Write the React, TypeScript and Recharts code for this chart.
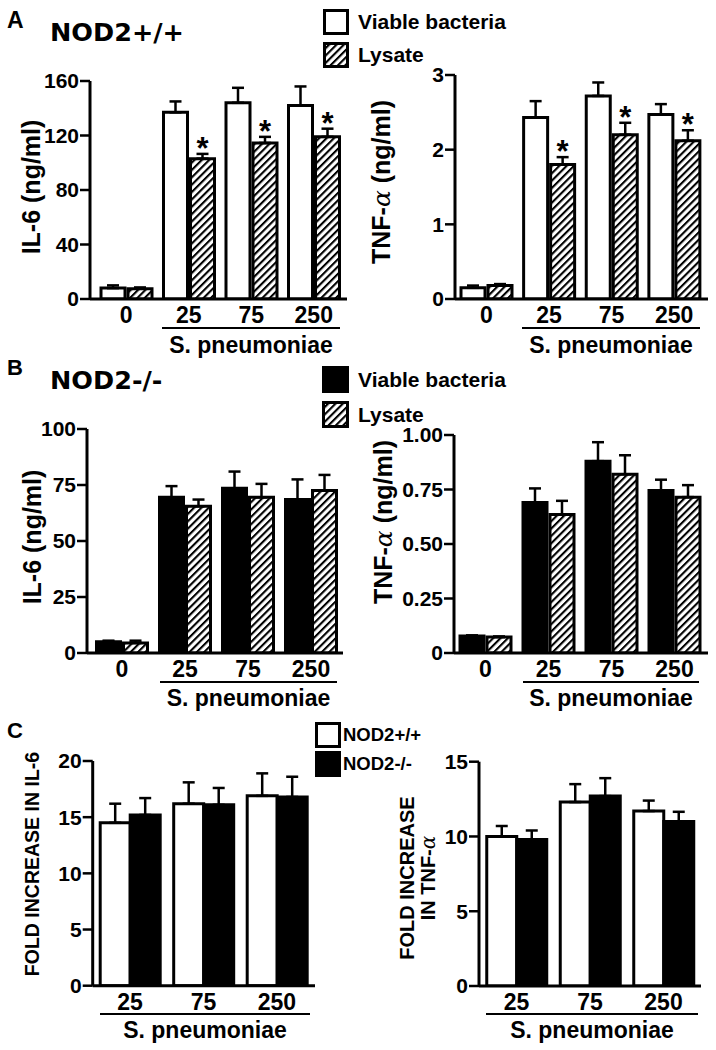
import React from 'react';
import { BarChart, Bar, XAxis, YAxis, ErrorBar, LabelList, Legend } from 'recharts';

const FONT = '"Liberation Sans", Arial, sans-serif';
const WIDE = '"DejaVu Sans", sans-serif';

const doses = ['0', '25', '75', '250'];
const foldDoses = ['25', '75', '250'];

// A: NOD2+/+
const aIl6Viable = [8, 137, 144, 142];
const aIl6ViableErr = [2, 8, 11, 14];
const aIl6Lysate = [7.5, 103, 114.5, 119];
const aIl6LysateErr = [1, 3.5, 4.5, 6];
const aTnfViable = [0.15, 2.43, 2.72, 2.47];
const aTnfViableErr = [0.03, 0.22, 0.18, 0.14];
const aTnfLysate = [0.18, 1.8, 2.2, 2.12];
const aTnfLysateErr = [0.02, 0.1, 0.16, 0.14];
const aStars = [false, true, true, true];

// B: NOD2-/-
const bIl6Viable = [5, 69.5, 73.5, 68.5];
const bIl6ViableErr = [0.5, 5, 7.5, 9];
const bIl6Lysate = [4.5, 65.5, 69.5, 72.5];
const bIl6LysateErr = [1, 3, 6, 7];
const bTnfViable = [0.078, 0.69, 0.88, 0.745];
const bTnfViableErr = [0.003, 0.065, 0.087, 0.05];
const bTnfLysate = [0.073, 0.635, 0.82, 0.715];
const bTnfLysateErr = [0.003, 0.063, 0.087, 0.055];

// C: fold increase
const cIl6Wt = [14.5, 16.2, 16.9];
const cIl6WtErr = [1.7, 1.9, 2.0];
const cIl6Ko = [15.2, 16.1, 16.8];
const cIl6KoErr = [1.5, 1.5, 1.8];
const cTnfWt = [10.0, 12.3, 11.7];
const cTnfWtErr = [0.7, 1.2, 0.7];
const cTnfKo = [9.8, 12.7, 11.0];
const cTnfKoErr = [0.6, 1.2, 0.65];

type Series = { key: string; name: string; fill: string; values: number[]; errors: number[]; stars?: boolean[] };

function buildRows(cats: string[], series: Series[]) {
  return cats.map((cat, i) => {
    const row: any = { cat };
    series.forEach((s) => {
      row[s.key] = s.values[i];
      row[s.key + 'Err'] = [0, s.errors[i]];
    });
    return row;
  });
}

function greek(str: string) {
  const parts = str.split('α');
  const out: React.ReactNode[] = [];
  parts.forEach((p, i) => {
    out.push(p);
    if (i < parts.length - 1)
      out.push(
        <tspan key={i} fontFamily='"DejaVu Serif", serif' fontStyle="italic" fontWeight={400}>
          α
        </tspan>
      );
  });
  return out;
}

const starLabel = (s: Series) => (props: any) => {
  const vb = props.viewBox || props;
  let idx = props.index;
  if (idx == null) idx = s.values.indexOf(props.value);
  if (!s.stars || !s.stars[idx]) return null;
  const pxPerUnit = vb.height / s.values[idx];
  const top = vb.y - s.errors[idx] * pxPerUnit;
  return (
    <text key={idx} x={vb.x + vb.width / 2} y={top + 5} textAnchor="middle" fontSize={31} fontWeight={700} fontFamily={FONT} fill="#000">
      *
    </text>
  );
};

const legendContent = (series: Series[], box: number, gap: number, fontSize: number, textGap: number) => (props: any) => {
  const order = series.map((s) => s.key);
  const items = [...(props.payload || [])].sort((a: any, b: any) => order.indexOf(a.dataKey) - order.indexOf(b.dataKey));
  return (
    <div>
      {items.map((e: any, i: number) => (
        <div key={i} style={{ display: 'flex', alignItems: 'center', height: box, marginBottom: gap }}>
          <svg width={box} height={box} style={{ flex: 'none' }}>
            <rect x={1.5} y={1.5} width={box - 3} height={box - 3} fill={e.color} stroke="#000" strokeWidth={3} />
          </svg>
          <span style={{ marginLeft: textGap, fontFamily: FONT, fontWeight: 700, fontSize, color: '#000', whiteSpace: 'nowrap' }}>{e.value}</span>
        </div>
      ))}
    </div>
  );
};

type PanelProps = {
  box: { left: number; top: number; width: number; height: number };
  plot: { x0: number; x1: number; y0: number; y1: number };
  pad: [number, number];
  cats: string[];
  series: Series[];
  domain: [number, number];
  ticks: number[];
  tickFmt?: (v: number) => string;
  barSize: number;
  barGap: number;
  label: { x: number; y: number; size: number; lines: string[]; lineGap?: number };
  legend?: { left: number; top: number; box: number; gap: number; fontSize: number; textGap: number };
};

function Panel(p: PanelProps) {
  const data = buildRows(p.cats, p.series);
  const axisH = 34;
  const margin = {
    top: p.plot.y0 - p.box.top,
    right: p.box.left + p.box.width - p.plot.x1,
    left: 0,
    bottom: p.box.top + p.box.height - p.plot.y1 - axisH,
  };
  const lx = p.label.x - p.box.left;
  const ly = p.label.y - p.box.top;
  const n = p.label.lines.length;
  const renderLabel = () => (
    <g>
      {p.label.lines.map((ln, i) => {
        const x = lx + (i - (n - 1) / 2) * (p.label.lineGap || 0);
        return (
          <text
            key={i}
            x={x}
            y={ly}
            transform={`rotate(-90 ${x} ${ly})`}
            textAnchor="middle"
            dominantBaseline="central"
            fontFamily={FONT}
            fontWeight={700}
            fontSize={p.label.size}
            fill="#000"
          >
            {greek(ln)}
          </text>
        );
      })}
    </g>
  );
  return (
    <div style={{ position: 'absolute', left: p.box.left, top: p.box.top }}>
      <BarChart width={p.box.width} height={p.box.height} data={data} margin={margin} barGap={p.barGap} barSize={p.barSize}>
        <XAxis
          dataKey="cat"
          height={axisH}
          interval={0}
          tickLine={false}
          axisLine={{ stroke: '#000', strokeWidth: 3 }}
          tick={{ fill: '#000', fontSize: 23, fontWeight: 700, fontFamily: FONT }}
          padding={{ left: p.pad[0], right: p.pad[1] }}
        />
        <YAxis
          width={p.plot.x0 - p.box.left}
          domain={p.domain}
          ticks={p.ticks}
          interval={0}
          allowDataOverflow
          tickFormatter={p.tickFmt}
          axisLine={{ stroke: '#000', strokeWidth: 3 }}
          tickLine={{ stroke: '#000', strokeWidth: 2.5 }}
          tickSize={10}
          tickMargin={1}
          tick={{ fill: '#000', fontSize: 21, fontWeight: 700, fontFamily: FONT }}
          label={renderLabel}
        />
        {p.series.map((s) => (
          <Bar key={s.key} dataKey={s.key} name={s.name} fill={s.fill} stroke="#000" strokeWidth={3} isAnimationActive={false}>
            <ErrorBar dataKey={s.key + 'Err'} width={6} stroke="#000" strokeWidth={2.5} direction="y" isAnimationActive={false} />
            {s.stars && <LabelList dataKey={s.key} content={starLabel(s)} />}
          </Bar>
        ))}
        {p.legend && (
          <Legend
            layout="vertical"
            align="center"
            verticalAlign="middle"
            width={240}
            wrapperStyle={{ left: p.legend.left - p.box.left, top: p.legend.top - p.box.top, width: 240 }}
            content={legendContent(p.series, p.legend.box, p.legend.gap, p.legend.fontSize, p.legend.textGap)}
          />
        )}
      </BarChart>
    </div>
  );
}

const HATCH = 'url(#hatch)';

function Decor() {
  const sp = (x0: number, x1: number, yLine: number, yText: number, k: number) => (
    <g key={k}>
      <line x1={x0} x2={x1} y1={yLine} y2={yLine} stroke="#000" strokeWidth={1.8} />
      <text x={(x0 + x1) / 2} y={yText} textAnchor="middle" fontFamily={FONT} fontWeight={700} fontSize={23} fill="#000">
        S. pneumoniae
      </text>
    </g>
  );
  return (
    <svg width={716} height={1050} style={{ position: 'absolute', left: 0, top: 0, pointerEvents: 'none' }}>
      <text x={7} y={28} fontFamily={FONT} fontWeight={700} fontSize={23}>A</text>
      <text x={50} y={41} fontFamily={WIDE} fontWeight={700} fontSize={25.5}>NOD2+/+</text>
      <text x={7} y={375} fontFamily={FONT} fontWeight={700} fontSize={22}>B</text>
      <text x={50} y={389} fontFamily={WIDE} fontWeight={700} fontSize={25.5}>NOD2-/-</text>
      <text x={7} y={738} fontFamily={FONT} fontWeight={700} fontSize={22}>C</text>
      {sp(162, 340, 328, 353, 1)}
      {sp(522, 700, 328, 353, 2)}
      {sp(160, 337, 682, 706, 3)}
      {sp(523, 699, 682, 706, 4)}
      {sp(100, 310, 1014, 1038, 5)}
      {sp(486, 698, 1014, 1038, 6)}
    </svg>
  );
}

export default function App() {
  const aIl6: Series[] = [
    { key: 'viable', name: 'Viable bacteria', fill: '#fff', values: aIl6Viable, errors: aIl6ViableErr },
    { key: 'lysate', name: 'Lysate', fill: HATCH, values: aIl6Lysate, errors: aIl6LysateErr, stars: aStars },
  ];
  const aTnf: Series[] = [
    { key: 'viable', name: 'Viable bacteria', fill: '#fff', values: aTnfViable, errors: aTnfViableErr },
    { key: 'lysate', name: 'Lysate', fill: HATCH, values: aTnfLysate, errors: aTnfLysateErr, stars: aStars },
  ];
  const bIl6: Series[] = [
    { key: 'viable', name: 'Viable bacteria', fill: '#000', values: bIl6Viable, errors: bIl6ViableErr },
    { key: 'lysate', name: 'Lysate', fill: HATCH, values: bIl6Lysate, errors: bIl6LysateErr },
  ];
  const bTnf: Series[] = [
    { key: 'viable', name: 'Viable bacteria', fill: '#000', values: bTnfViable, errors: bTnfViableErr },
    { key: 'lysate', name: 'Lysate', fill: HATCH, values: bTnfLysate, errors: bTnfLysateErr },
  ];
  const cIl6: Series[] = [
    { key: 'wt', name: 'NOD2+/+', fill: '#fff', values: cIl6Wt, errors: cIl6WtErr },
    { key: 'ko', name: 'NOD2-/-', fill: '#000', values: cIl6Ko, errors: cIl6KoErr },
  ];
  const cTnf: Series[] = [
    { key: 'wt', name: 'NOD2+/+', fill: '#fff', values: cTnfWt, errors: cTnfWtErr },
    { key: 'ko', name: 'NOD2-/-', fill: '#000', values: cTnfKo, errors: cTnfKoErr },
  ];
  const fmt2 = (v: number) => (v === 0 ? '0' : v.toFixed(2));

  return (
    <div style={{ position: 'absolute', left: 0, top: 0, width: 716, height: 1050, background: '#fff' }}>
      <svg width={0} height={0} style={{ position: 'absolute' }}>
        <defs>
          <pattern id="hatch" patternUnits="userSpaceOnUse" width={5.2} height={5.2} patternTransform="rotate(45)">
            <rect width={5.2} height={5.2} fill="#fff" />
            <line x1={1} y1={0} x2={1} y2={5.2} stroke="#000" strokeWidth={2.2} />
          </pattern>
        </defs>
      </svg>

      <Panel
        box={{ left: 0, top: 0, width: 356, height: 340 }}
        plot={{ x0: 90, x1: 347, y0: 81, y1: 299 }}
        pad={[5, 2]}
        cats={doses}
        series={aIl6}
        domain={[0, 160]}
        ticks={[0, 40, 80, 120, 160]}
        barSize={24}
        barGap={3}
        label={{ x: 31, y: 187, size: 25, lines: ['IL-6 (ng/ml)'] }}
        legend={{ left: 323, top: 9, box: 26, gap: 7, fontSize: 21, textGap: 9 }}
      />
      <Panel
        box={{ left: 356, top: 0, width: 360, height: 340 }}
        plot={{ x0: 455, x1: 708, y0: 75, y1: 299 }}
        pad={[0, 2.5]}
        cats={doses}
        series={aTnf}
        domain={[0, 3]}
        ticks={[0, 1, 2, 3]}
        barSize={24}
        barGap={3}
        label={{ x: 381, y: 182, size: 25, lines: ['TNF-α (ng/ml)'] }}
      />
      <Panel
        box={{ left: 0, top: 340, width: 356, height: 360 }}
        plot={{ x0: 87, x1: 343, y0: 429, y1: 653 }}
        pad={[3.5, 0.5]}
        cats={doses}
        series={bIl6}
        domain={[0, 100]}
        ticks={[0, 25, 50, 75, 100]}
        barSize={24}
        barGap={3}
        label={{ x: 32, y: 537, size: 25, lines: ['IL-6 (ng/ml)'] }}
        legend={{ left: 322, top: 366, box: 27, gap: 8, fontSize: 21, textGap: 9 }}
      />
      <Panel
        box={{ left: 356, top: 340, width: 360, height: 360 }}
        plot={{ x0: 454, x1: 708, y0: 435, y1: 653 }}
        pad={[0, 2]}
        cats={doses}
        series={bTnf}
        domain={[0, 1]}
        ticks={[0, 0.25, 0.5, 0.75, 1]}
        tickFmt={fmt2}
        barSize={24}
        barGap={3}
        label={{ x: 383, y: 522, size: 25, lines: ['TNF-α (ng/ml)'] }}
      />
      <Panel
        box={{ left: 0, top: 700, width: 356, height: 350 }}
        plot={{ x0: 92.7, x1: 315, y0: 761, y1: 985.7 }}
        pad={[0.5, 1.3]}
        cats={foldDoses}
        series={cIl6}
        domain={[0, 20]}
        ticks={[0, 5, 10, 15, 20]}
        barSize={30}
        barGap={0}
        label={{ x: 32, y: 864, size: 19.5, lines: ['FOLD INCREASE IN IL-6'] }}
        legend={{ left: 315, top: 722, box: 26, gap: 3, fontSize: 18.5, textGap: 2 }}
      />
      <Panel
        box={{ left: 356, top: 700, width: 360, height: 350 }}
        plot={{ x0: 479, x1: 701, y0: 761.7, y1: 986 }}
        pad={[0.75, 0.75]}
        cats={foldDoses}
        series={cTnf}
        domain={[0, 15]}
        ticks={[0, 5, 10, 15]}
        barSize={30}
        barGap={0}
        label={{ x: 417, y: 878, size: 20, lines: ['FOLD INCREASE', 'IN TNF-α'], lineGap: 21 }}
      />
      <Decor />
    </div>
  );
}
